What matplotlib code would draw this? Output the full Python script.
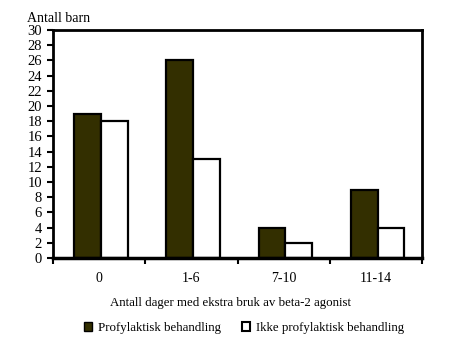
import matplotlib
matplotlib.use("Agg")
import matplotlib.pyplot as plt
import numpy as np
from matplotlib.patches import Patch

categories = ["0", "1-6", "7-10", "11-14"]
profylaktisk = [19, 26, 4, 9]
ikke_profylaktisk = [18, 13, 2, 4]
yticks = list(range(0, 31, 2))

plt.rcParams['font.family'] = ['Liberation Serif', 'DejaVu Serif']

fig = plt.figure(figsize=(4.63, 3.59), dpi=100)
ax = fig.add_axes([53/463, 1 - 258/359, (422-53)/463, (258-30)/359])

x = np.arange(len(categories))
w = 0.29
dark = "#332f00"
ax.bar(x - w/2 + 0.02, profylaktisk, width=w, color=dark, edgecolor="black", linewidth=1.6, zorder=3)
ax.bar(x + w/2 + 0.02, ikke_profylaktisk, width=w, color="white", edgecolor="black", linewidth=1.6, zorder=3)

ax.set_xlim(-0.5, len(categories) - 0.5)
ax.set_ylim(0, 30)
ax.set_yticks(yticks)
ax.set_yticklabels([str(v) for v in yticks], fontsize=10.5)
ax.set_xticks(x)
ax.set_xticklabels(categories, fontsize=10)
ax.tick_params(axis='x', length=0, pad=10)
ax.set_xticks(np.arange(-0.5, len(categories), 1.0), minor=True)
ax.tick_params(axis='x', which='minor', length=4, width=1.5, direction='out')
ax.tick_params(axis='y', length=4, width=1.5, direction='out', pad=4)
for s in ax.spines.values():
    s.set_linewidth(2)
ax.spines['bottom'].set_linewidth(2.5)
ax.spines['bottom'].set_zorder(5)

fig.text(27/463, 1 - 19/359, "Antall barn", fontsize=10, ha='left', va='center')
fig.text(231/463, 1 - 303/359, "Antall dager med ekstra bruk av beta-2 agonist", fontsize=9.3, ha='center', va='center')

handles = [Patch(facecolor=dark, edgecolor='black', linewidth=1.0, label="Profylaktisk behandling"),
           Patch(facecolor='white', edgecolor='black', linewidth=1.5, label="Ikke profylaktisk behandling")]
fig.legend(handles=handles, loc='center', bbox_to_anchor=(244/463, 1 - 328/359), ncol=2,
           frameon=False, fontsize=9.3, handlelength=0.6, handleheight=0.6, handletextpad=0.5,
           columnspacing=1.6)

fig.savefig("out.png", dpi=100)
